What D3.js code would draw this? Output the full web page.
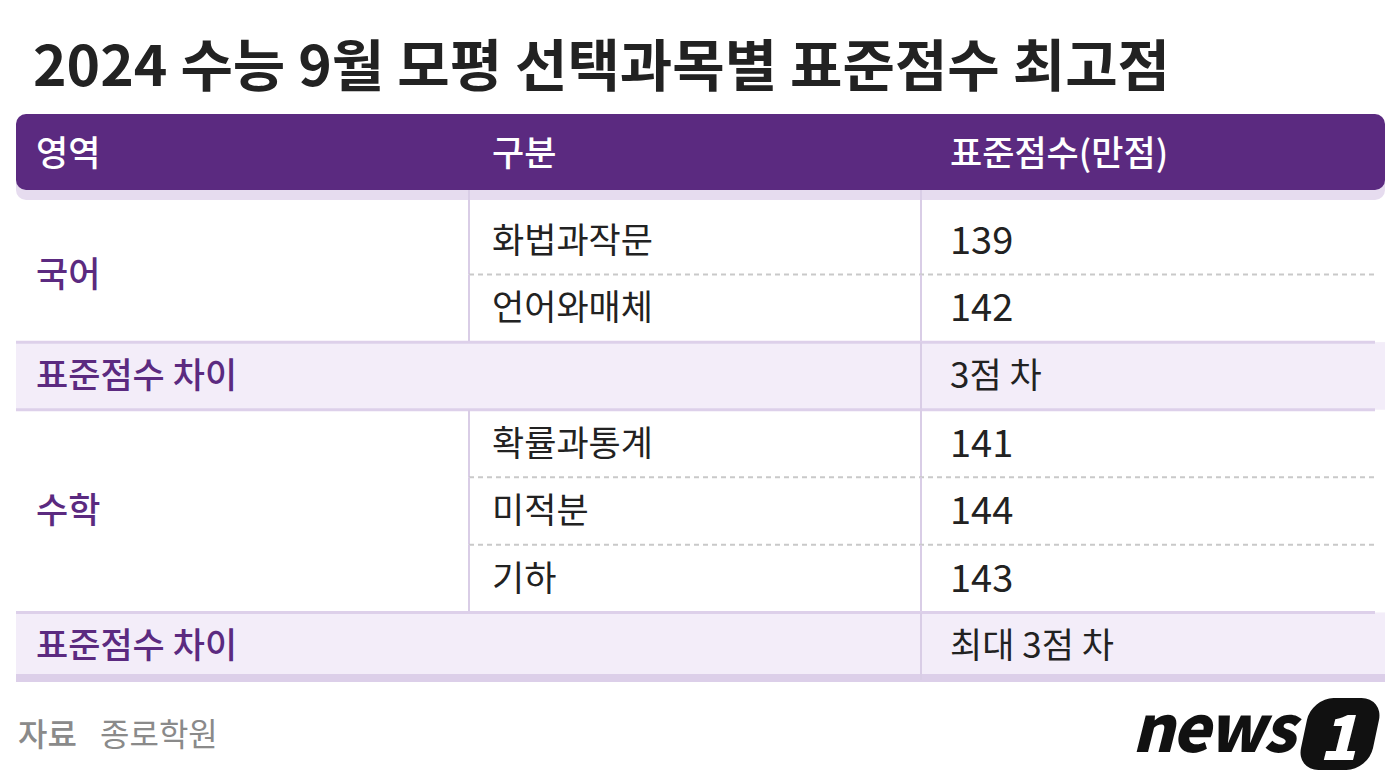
<!DOCTYPE html>
<html><head><meta charset="utf-8">
<script src="https://cdn.jsdelivr.net/npm/d3@7"></script>
<style>body{margin:0;background:#fff}svg{display:block}text{font-family:"Noto Sans CJK KR","Noto Sans",sans-serif}</style>
</head><body><svg id="chart"></svg>
<script>
const title = "2024 수능 9월 모평 선택과목별 표준점수 최고점";
const headers = ["영역", "구분", "표준점수(만점)"];
const areas = ["국어", "수학"];
const subjects = [["화법과작문", "언어와매체"], ["확률과통계", "미적분", "기하"]];
const scores = [[139, 142], [141, 144, 143]];
const diffLabels = ["3점 차", "최대 3점 차"];
const source = ["자료", "종로학원"];

const width = 1400, height = 784;
const purple = "#5b2a80", txt = "#222";
const svg = d3.select("#chart").attr("width", width).attr("height", height);

// Build flat row list
const rows = [];
areas.forEach((a, i) => {
  subjects[i].forEach((s, j) => rows.push({type: "sub", area: i, idx: j, n: subjects[i].length, subject: s, score: scores[i][j]}));
  rows.push({type: "diff", area: i, label: diffLabels[i]});
});

const x = d3.scaleOrdinal().domain(headers).range([36, 492, 950]);
const colLines = [469, 921];
const left = 16, right = 1385;
const y = d3.scaleBand().domain(d3.range(rows.length)).range([207, 680]);

svg.append("text").attr("x", 33).attr("y", 86).attr("font-size", 56).attr("font-weight", 700)
  .attr("fill", txt).attr("textLength", 1137).attr("lengthAdjust", "spacingAndGlyphs").text(title);

// header
svg.append("rect").attr("x", left).attr("y", 122).attr("width", right - left).attr("height", 78).attr("rx", 10).attr("fill", "#e6dcef");
svg.append("rect").attr("x", left).attr("y", 114).attr("width", right - left).attr("height", 76).attr("rx", 10).attr("fill", purple);
svg.selectAll(".hd").data(headers).join("text").attr("x", d => x(d)).attr("y", 166)
  .attr("font-size", 35).attr("font-weight", 500).attr("fill", "#fff").text(d => d);

const g = svg.append("g");
rows.forEach((r, i) => {
  const top = y(i), bh = y.bandwidth(), cy = top + bh / 2 + 12;
  if (r.type === "diff") {
    g.append("rect").attr("x", left).attr("y", top).attr("width", right - left).attr("height", bh).attr("fill", "#f3edf9");
    g.append("line").attr("x1", left).attr("x2", right - 10).attr("y1", top).attr("y2", top).attr("stroke", "#ddd0ea").attr("stroke-width", 3);
    if (i < rows.length - 1) g.append("line").attr("x1", left).attr("x2", right - 10).attr("y1", top + bh).attr("y2", top + bh).attr("stroke", "#ddd0ea").attr("stroke-width", 3);
    else g.append("rect").attr("x", left).attr("y", top + bh - 6).attr("width", right - left).attr("height", 8).attr("fill", "#dccfe9");
    g.append("text").attr("x", x(headers[0])).attr("y", cy).attr("font-size", 35).attr("font-weight", 500).attr("fill", purple).text("표준점수 차이");
    g.append("text").attr("x", x(headers[2])).attr("y", cy).attr("font-size", 35).attr("fill", txt).text(r.label);
    g.append("line").attr("x1", colLines[1]).attr("x2", colLines[1]).attr("y1", top).attr("y2", top + bh).attr("stroke", "#d9cde6").attr("stroke-width", 2);
  } else {
    if (r.idx === 0) {
      const mid = top + bh * r.n / 2;
      g.append("text").attr("x", x(headers[0])).attr("y", mid + 12).attr("font-size", 35).attr("font-weight", 500).attr("fill", purple).text(areas[r.area]);
    }
    if (r.idx > 0) g.append("line").attr("x1", colLines[0]).attr("x2", right - 10).attr("y1", top).attr("y2", top)
      .attr("stroke", "#c9c9c9").attr("stroke-width", 2).attr("stroke-dasharray", "5,4");
    colLines.forEach(cx => g.append("line").attr("x1", cx).attr("x2", cx).attr("y1", r.area === 0 && r.idx === 0 ? 190 : top).attr("y2", top + bh)
      .attr("stroke", "#d9cde6").attr("stroke-width", 2));
    g.append("text").attr("x", x(headers[1])).attr("y", cy).attr("font-size", 35).attr("fill", txt).text(r.subject);
    g.append("text").attr("x", x(headers[2])).attr("y", cy + 1).attr("font-size", 38).attr("fill", txt).text(r.score);
  }
});

// source
svg.append("text").attr("x", 18).attr("y", 746).attr("font-size", 32).attr("font-weight", 500).attr("fill", "#8a8a8a").text(source[0]);
svg.append("text").attr("x", 100).attr("y", 746).attr("font-size", 32).attr("fill", "#8a8a8a").text(source[1]);

// logo
const logo = svg.append("g");
logo.append("text").attr("x", 1132).attr("y", 752).attr("font-size", 64).attr("font-weight", 900).attr("font-style", "italic")
  .attr("font-family", "DejaVu Sans").attr("fill", "#111").attr("letter-spacing", -2).text("news");
logo.append("rect").attr("x", 1305).attr("y", 698).attr("width", 72).attr("height", 72).attr("rx", 22)
  .attr("transform", "skewX(-12) translate(155,0)").attr("fill", "#111");
logo.append("text").attr("x", 1338).attr("y", 760).attr("font-size", 62).attr("font-weight", 900).attr("font-style", "italic")
  .attr("font-family", "DejaVu Sans").attr("text-anchor", "middle").attr("fill", "#fff").text("1");
</script></body></html>
